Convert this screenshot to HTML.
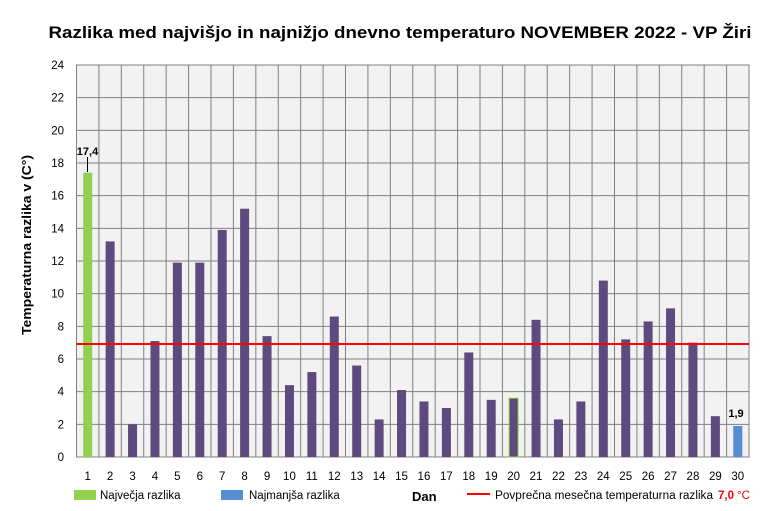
<!DOCTYPE html>
<html><head><meta charset="utf-8"><style>
html,body{margin:0;padding:0;background:#fff}
svg{display:block;font-family:"Liberation Sans",sans-serif}
</style></head><body>
<svg width="770" height="511" viewBox="0 0 770 511" xmlns="http://www.w3.org/2000/svg">
<text x="400" y="38" text-anchor="middle" font-size="17" font-weight="bold" textLength="703" lengthAdjust="spacingAndGlyphs">Razlika med najvišjo in najnižjo dnevno temperaturo NOVEMBER 2022 - VP Žiri</text>
<rect x="76.5" y="65" width="672.5" height="392" fill="#f2f2f2" stroke="#808080" stroke-width="1"/>
<g id="grid" stroke="#808080" stroke-width="1"></g>
<g id="ylab" font-size="11.5" text-anchor="end" fill="#000"></g>
<g id="bars"></g>
<g id="xlab" font-size="11.5" text-anchor="middle" fill="#000"></g>
<line x1="76.5" y1="344" x2="749" y2="344" stroke="#ff0000" stroke-width="2"/>
<line x1="87.5" y1="157" x2="87.5" y2="172" stroke="#000" stroke-width="1"/>
<text x="87.5" y="155" text-anchor="middle" font-size="11" font-weight="bold">17,4</text>
<text x="736" y="417" text-anchor="middle" font-size="11" font-weight="bold">1,9</text>
<text transform="translate(31,245) rotate(-90)" text-anchor="middle" font-size="13" font-weight="bold" textLength="180" lengthAdjust="spacingAndGlyphs">Temperaturna razlika v (C°)</text>
<rect x="74" y="490" width="22" height="10" fill="#92d050"/>
<text x="100" y="499" font-size="11.5">Največja razlika</text>
<rect x="221" y="490" width="22" height="10" fill="#558ed5"/>
<text x="249" y="499" font-size="11.5">Najmanjša razlika</text>
<text x="412" y="501" font-size="13" font-weight="bold">Dan</text>
<line x1="467" y1="494" x2="490" y2="494" stroke="#ff0000" stroke-width="2"/>
<text x="495" y="499" font-size="11.5" textLength="218" lengthAdjust="spacingAndGlyphs">Povprečna mesečna temperaturna razlika</text>
<text x="718" y="499" font-size="11.5" fill="#ff0000" font-weight="bold">7,0</text>
<text x="737" y="499" font-size="11.5" fill="#ff0000">°C</text>
<script>
var ns="http://www.w3.org/2000/svg";
function el(p,t,a,txt){var e=document.createElementNS(ns,t);for(var k in a)e.setAttribute(k,a[k]);if(txt!==undefined)e.textContent=txt;document.getElementById(p).appendChild(e);}
var L=76.5,R=749,T=65,B=457,W=(R-L)/30,h=(B-T)/24;
for(var i=1;i<12;i++){var y=B-i*2*h;el("grid","line",{x1:L,x2:R,y1:y,y2:y});}
for(var i=1;i<30;i++){var x=L+i*W;el("grid","line",{x1:x,x2:x,y1:T,y2:B});}
for(var i=0;i<=12;i++){el("ylab","text",{x:64,y:B-i*2*h+4},String(i*2));}
var v=[17.4,13.2,2.0,7.1,11.9,11.9,13.9,15.2,7.4,4.4,5.2,8.6,5.6,2.3,4.1,3.4,3.0,6.4,3.5,3.6,8.4,2.3,3.4,10.8,7.2,8.3,9.1,7.0,2.5,1.9];
for(var i=0;i<30;i++){var cx=L+(i+0.5)*W;var c=i==0?"#92d050":(i==29?"#558ed5":"#5e4a7e");
var a={x:cx-4.5,y:B-v[i]*h,width:9,height:v[i]*h,fill:c};
if(i==19){a.stroke="#92d050";a["stroke-width"]=1;}
el("bars","rect",a);
el("xlab","text",{x:cx,y:480},String(i+1));}
</script>
</svg>
</body></html>
